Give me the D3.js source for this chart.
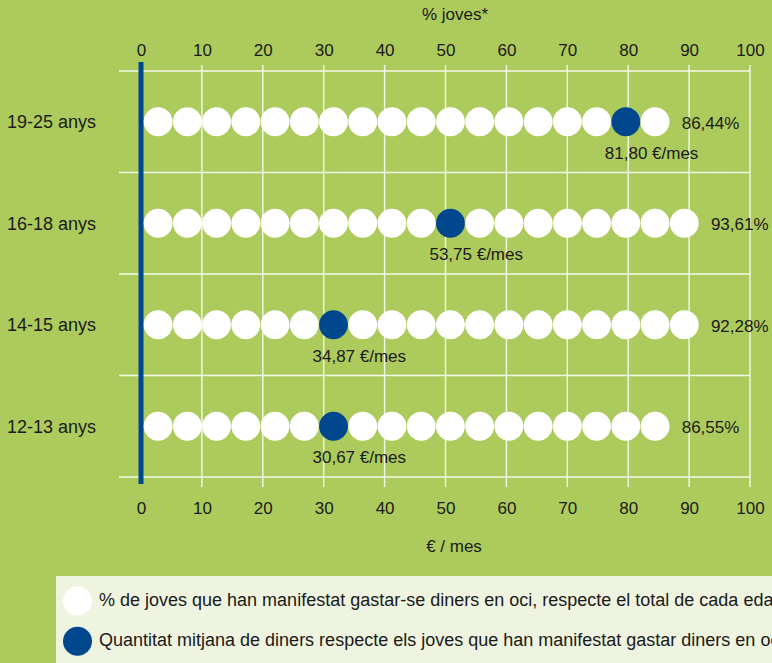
<!DOCTYPE html>
<html>
<head>
<meta charset="utf-8">
<script src="https://cdn.jsdelivr.net/npm/d3@7"></script>
<style>
  html, body { margin: 0; padding: 0; background: #adcb5c; }
  svg { display: block; }
  text { font-family: "Liberation Sans", Arial, Helvetica, sans-serif; fill: #1a1a1a; }
</style>
</head>
<body>
<svg id="chart" width="772" height="663"></svg>
<script>
// ---- data ----
const categories = ["19-25 anys", "16-18 anys", "14-15 anys", "12-13 anys"];
const pctValues = [86.44, 93.61, 92.28, 86.55];          // % joves
const eurValues = [81.80, 53.75, 34.87, 30.67];          // €/mes
const pctLabels = ["86,44%", "93,61%", "92,28%", "86,55%"];
const eurLabels = ["81,80 €/mes", "53,75 €/mes", "34,87 €/mes", "30,67 €/mes"];
const tickValues = [0, 10, 20, 30, 40, 50, 60, 70, 80, 90, 100];
const topTitle = "% joves*";
const bottomTitle = "€ / mes";
const legendLabels = [
  "% de joves que han manifestat gastar-se diners en oci, respecte el total de cada edat",
  "Quantitat mitjana de diners respecte els joves que han manifestat gastar diners en oci"
];
const dotPitch = 4.8; // axis units covered by one dot

// ---- styles ----
const green = "#adcb5c", blue = "#00478e", legendBg = "#eef4df", gridCol = "#f4f8e8";

const svg = d3.select("#chart");
svg.append("rect").attr("width", 772).attr("height", 663).attr("fill", green);

const x = d3.scaleLinear().domain([0, 100]).range([141, 750]);
const y = d3.scaleBand().domain(categories).range([71, 477]).padding(0);

// grid: horizontal lines at band boundaries
const hLines = categories.map(c => y(c)).concat([y.range()[1]]);
svg.append("g").selectAll("line").data(hLines).join("line")
  .attr("x1", 119).attr("x2", x(100))
  .attr("y1", d => d).attr("y2", d => d)
  .attr("stroke", gridCol).attr("stroke-width", 1.6);

// vertical grid lines
svg.append("g").selectAll("line").data(tickValues.filter(t => t > 0)).join("line")
  .attr("x1", d => x(d)).attr("x2", d => x(d))
  .attr("y1", 65).attr("y2", 487)
  .attr("stroke", gridCol).attr("stroke-width", 1.4);

// axes (labels only)
const topAxis = d3.axisTop(x).tickValues(tickValues).tickSize(0).tickPadding(0);
const gTop = svg.append("g").attr("transform", "translate(0,56)").call(topAxis);
const botAxis = d3.axisBottom(x).tickValues(tickValues).tickSize(0).tickPadding(0);
const gBot = svg.append("g").attr("transform", "translate(0,502)").call(botAxis);
[gTop, gBot].forEach(g => {
  g.select(".domain").remove();
  g.selectAll("text").attr("font-size", 17).attr("fill", "#1a1a1a")
    .attr("font-family", '"Liberation Sans", Arial, sans-serif');
});
gTop.selectAll("text").attr("dy", 0);
gBot.selectAll("text").attr("dy", "0.71em");

// titles
svg.append("text").attr("x", 455).attr("y", 20).attr("text-anchor", "middle")
  .attr("font-size", 17).text(topTitle);
svg.append("text").attr("x", 454).attr("y", 552).attr("text-anchor", "middle")
  .attr("font-size", 17).text(bottomTitle);

// blue zero line
svg.append("line").attr("x1", x(0)).attr("x2", x(0)).attr("y1", 62).attr("y2", 484)
  .attr("stroke", blue).attr("stroke-width", 5);

// rows
const r = (x(dotPitch) - x(0)) / 2;
const startX = x(0) + 2.5 + r;
categories.forEach((cat, i) => {
  const cy = y(cat) + y.bandwidth() / 2;
  const n = Math.floor(pctValues[i] / dotPitch);
  const blueIdx = Math.floor((eurValues[i] - 1.5) / dotPitch);
  const dots = d3.range(n);
  const g = svg.append("g");
  g.selectAll("circle").data(dots).join("circle")
    .attr("cx", d => startX + d * 2 * r)
    .attr("cy", cy)
    .attr("r", r - 0.2)
    .attr("fill", d => d === blueIdx ? blue : "#ffffff");
  // category label
  g.append("text").attr("x", 7).attr("y", cy + 6.5).attr("font-size", 18).text(cat);
  // pct label
  const lastRight = startX + (n - 1) * 2 * r + r;
  g.append("text").attr("x", lastRight + 12).attr("y", cy + 7)
    .attr("font-size", 17).text(pctLabels[i]);
  // eur label
  const bx = startX + blueIdx * 2 * r;
  g.append("text").attr("x", bx - 21).attr("y", cy + 37)
    .attr("font-size", 17).text(eurLabels[i]);
});

// legend
svg.append("rect").attr("x", 56).attr("y", 576).attr("width", 772 - 56).attr("height", 663 - 576)
  .attr("fill", legendBg);
const legendFills = ["#ffffff", blue];
legendLabels.forEach((t, i) => {
  const cy = 601 + i * 40.3;
  svg.append("circle").attr("cx", 77.5).attr("cy", cy).attr("r", 14.5).attr("fill", legendFills[i]);
  svg.append("text").attr("x", 99).attr("y", cy + 4.5).attr("font-size", 18).text(t);
});
</script>
</body>
</html>
